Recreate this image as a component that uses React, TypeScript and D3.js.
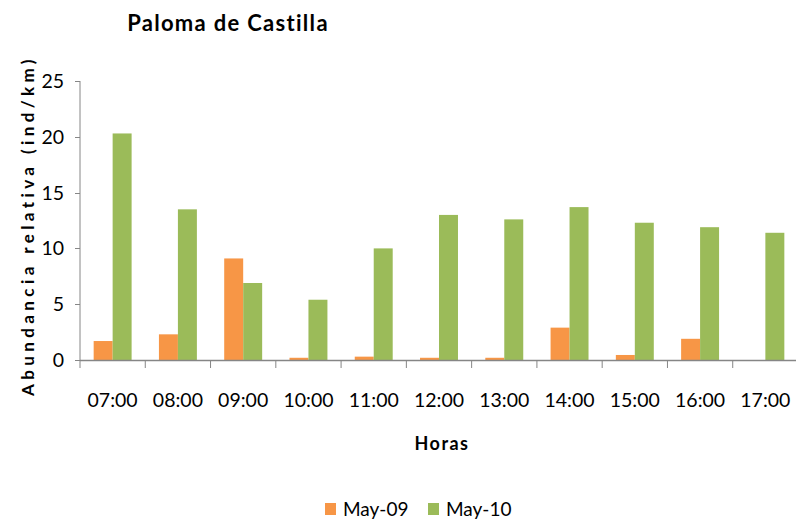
import { useEffect, useRef } from 'react';
import * as d3 from 'd3';

const horas = ['07:00', '08:00', '09:00', '10:00', '11:00', '12:00', '13:00', '14:00', '15:00', '16:00', '17:00'];
const series = ['May-09', 'May-10'];
const may09 = [1.7, 2.3, 9.1, 0.2, 0.3, 0.2, 0.2, 2.9, 0.45, 1.9, 0];
const may10 = [20.3, 13.5, 6.9, 5.4, 10.0, 13.0, 12.6, 13.7, 12.3, 11.9, 11.4];
const yTicks = [0, 5, 10, 15, 20, 25];
const colors = ['#F79646', '#9BBB59'];

const W = 796;
const H = 523;

export default function App() {
  const ref = useRef<SVGSVGElement>(null);

  useEffect(() => {
    if (!ref.current) return;
    const svg = d3.select(ref.current);
    svg.selectAll('*').remove();

    const font = 'Lato, "Open Sans", sans-serif';
    const axisColor = '#868686';
    const left = 80;
    const right = 798;
    const top = 81;
    const bottom = 360;

    const x = d3.scaleBand().domain(horas).range([left, right]).paddingInner(0).paddingOuter(0);
    const x1 = d3.scaleBand().domain(series).range([0, x.bandwidth()]).paddingInner(0).paddingOuter(0.72);
    const y = d3.scaleLinear().domain([0, 25]).range([bottom, top]);

    // bars
    const values = [may09, may10];
    series.forEach((s, si) => {
      svg.append('g')
        .selectAll('rect')
        .data(values[si])
        .join('rect')
        .attr('x', (_, i) => x(horas[i])! + x1(s)!)
        .attr('width', x1.bandwidth())
        .attr('y', d => y(d))
        .attr('height', d => bottom - y(d))
        .attr('fill', colors[si]);
    });

    // y axis
    svg.append('line')
      .attr('x1', left).attr('x2', left)
      .attr('y1', top).attr('y2', bottom)
      .attr('stroke', axisColor);
    const yg = svg.append('g');
    yg.selectAll('line')
      .data(yTicks)
      .join('line')
      .attr('x1', left - 5).attr('x2', left)
      .attr('y1', d => Math.round(y(d)) + 0.5).attr('y2', d => Math.round(y(d)) + 0.5)
      .attr('stroke', axisColor);
    yg.selectAll('text')
      .data(yTicks)
      .join('text')
      .attr('x', left - 16)
      .attr('y', d => y(d))
      .attr('dy', '0.36em')
      .attr('text-anchor', 'end')
      .attr('font-family', font)
      .attr('font-size', 19.5)
      .attr('fill', '#000')
      .text(d => d);

    // x axis
    svg.append('line')
      .attr('x1', left).attr('x2', right)
      .attr('y1', bottom + 0.5).attr('y2', bottom + 0.5)
      .attr('stroke', axisColor)
      .attr('stroke-width', 1.5);
    const xg = svg.append('g');
    xg.selectAll('line')
      .data(horas)
      .join('line')
      .attr('x1', d => x(d)!).attr('x2', d => x(d)!)
      .attr('y1', bottom).attr('y2', bottom + 8)
      .attr('stroke', axisColor);
    xg.selectAll('text')
      .data(horas)
      .join('text')
      .attr('x', d => x(d)! + x.bandwidth() / 2)
      .attr('y', 407)
      .attr('text-anchor', 'middle')
      .attr('font-family', font)
      .attr('font-size', 19.5)
      .attr('fill', '#000')
      .text(d => d);

    // titles
    svg.append('text')
      .attr('x', 228).attr('y', 31)
      .attr('text-anchor', 'middle')
      .attr('font-family', font)
      .attr('font-weight', 'bold')
      .attr('font-size', 22)
      .attr('letter-spacing', 1.3)
      .text('Paloma de Castilla');

    svg.append('text')
      .attr('x', 442).attr('y', 450)
      .attr('text-anchor', 'middle')
      .attr('font-family', font)
      .attr('font-weight', 'bold')
      .attr('font-size', 18)
      .attr('letter-spacing', 1.5)
      .text('Horas');

    svg.append('text')
      .attr('transform', `translate(34,${(top + bottom) / 2 + 5}) rotate(-90)`)
      .attr('text-anchor', 'middle')
      .attr('font-family', font)
      .attr('font-weight', 'bold')
      .attr('font-size', 17)
      .attr('letter-spacing', 4.4)
      .text('Abundancia relativa (ind/km)');

    // legend
    const legendX = [325, 428];
    const lg = svg.append('g');
    series.forEach((s, i) => {
      lg.append('rect')
        .attr('x', legendX[i]).attr('y', 503)
        .attr('width', 11).attr('height', 12)
        .attr('fill', colors[i]);
      lg.append('text')
        .attr('x', legendX[i] + 18).attr('y', 516)
        .attr('font-family', font)
        .attr('font-size', 19)
        .attr('fill', '#000')
        .text(s);
    });
  }, []);

  return (
    <svg
      ref={ref}
      width={W}
      height={H}
      viewBox={`0 0 ${W} ${H}`}
      style={{ position: 'absolute', left: 0, top: 0, background: '#fff' }}
    />
  );
}
